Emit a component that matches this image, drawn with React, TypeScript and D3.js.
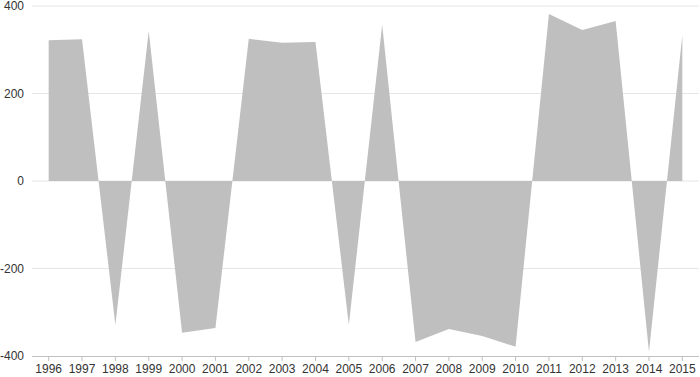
import React from "react";
import * as d3 from "d3";

const years = [1996,1997,1998,1999,2000,2001,2002,2003,2004,2005,2006,2007,2008,2009,2010,2011,2012,2013,2014,2015];
const values = [322,324,-329,343,-347,-336,325,316,318,-329,357,-368,-338,-354,-379,382,345,366,-391,334];
const yTicks = [-400,-200,0,200,400];

const W = 700, H = 377;
const left = 32, right = 699, top = 6, bottom = 356;

export default function App() {
  const x = d3.scaleBand<number>().domain(years).range([left, right]);
  const y = d3.scaleLinear().domain([-400, 400]).range([bottom, top]);
  const cx = (yr: number) => (x(yr) as number) + x.bandwidth() / 2;
  const data = years.map((yr, i) => ({ yr, v: values[i] }));
  const area = d3.area<{ yr: number; v: number }>()
    .x(d => cx(d.yr))
    .y0(y(0))
    .y1(d => y(d.v));
  return (
    <svg width={W} height={H} style={{ position: "absolute", left: 0, top: 0, fontFamily: "'Liberation Sans', Arial, sans-serif" }}>
      {yTicks.map(t => (
        <g key={t}>
          {t !== -400 && <line x1={left} x2={right} y1={y(t)} y2={y(t)} stroke="#e6e6e6" strokeWidth={1} />}
          <text x={24} y={y(t)} dy="0.35em" textAnchor="end" fontSize={12} fill="#333">{t}</text>
        </g>
      ))}
      <path d={area(data) || ""} fill="#bfbfbf" />
      <line x1={left} x2={right} y1={bottom + 0.5} y2={bottom + 0.5} stroke="#c0c0c0" strokeWidth={1} />
      {years.map(yr => (
        <g key={yr}>
          <line x1={cx(yr)} x2={cx(yr)} y1={bottom} y2={bottom + 5} stroke="#c0c0c0" />
          <text x={cx(yr)} y={369} dy="0.35em" textAnchor="middle" fontSize={12} fill="#333">{yr}</text>
        </g>
      ))}
    </svg>
  );
}
